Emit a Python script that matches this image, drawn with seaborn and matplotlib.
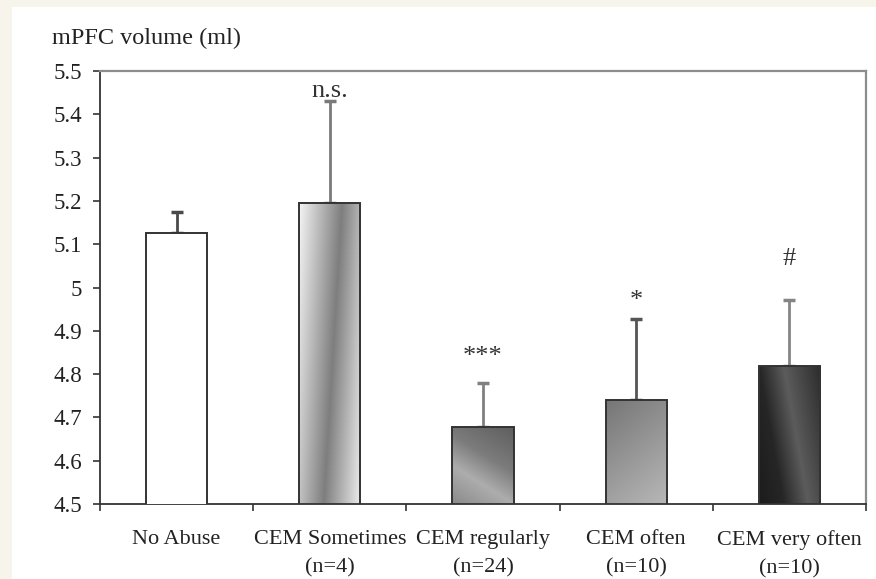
import numpy as np
import pandas as pd
import matplotlib
matplotlib.use("Agg")
import matplotlib.pyplot as plt
from matplotlib.colors import LinearSegmentedColormap
from matplotlib.patches import Rectangle
import seaborn as sns

# Group labels, group sizes and mean mPFC volume with upper error
categories = ["No Abuse", "CEM Sometimes", "CEM regularly", "CEM often", "CEM very often"]
group_n = ["", "(n=4)", "(n=24)", "(n=10)", "(n=10)"]
volume_mean = [5.125, 5.195, 4.677, 4.740, 4.818]
volume_err = [0.050, 0.235, 0.103, 0.188, 0.152]
significance = ["", "n.s.", "***", "*", "#"]
y_ticks = [4.5, 4.6, 4.7, 4.8, 4.9, 5.0, 5.1, 5.2, 5.3, 5.4, 5.5]
y_tick_labels = ["4.5", "4.6", "4.7", "4.8", "4.9", "5", "5.1", "5.2", "5.3", "5.4", "5.5"]

df = pd.DataFrame({"group": categories, "volume": volume_mean})

sns.set_theme(style="white")
plt.rcParams["font.family"] = ["Liberation Serif", "DejaVu Serif"]

fig = plt.figure(figsize=(8.76, 5.79), dpi=100, facecolor="#f7f4ec")
# white page panel behind everything
fig.patches.append(Rectangle((12 / 876, 0), 1, 1 - 7 / 579, transform=fig.transFigure,
                             facecolor="white", edgecolor="none", zorder=-10))
ax = fig.add_axes([100 / 876, 1 - 504 / 579, 766 / 876, 433 / 579])
ax.set_zorder(1)
ax.set_facecolor("white")

sns.barplot(data=df, x="group", y="volume", order=categories, width=0.4,
            color="white", edgecolor="#333333", linewidth=1.4, errorbar=None, ax=ax, zorder=3)

ax.set_ylim(4.5, 5.5)
ax.set_xlim(-0.5, len(categories) - 0.5)

# gradient fills for the CEM bars: (direction weights, colour stops)
fills = [
    None,
    ((1.0, 0.3), [(0.0, "#f4f4f4"), (0.7, "#7e7e7e"), (1.3, "#ececec")]),
    ((-0.5, 1.0), [(-0.5, "#5e5e5e"), (0.1, "#7c7c7c"), (0.5, "#adadad"), (1.0, "#8a8a8a")]),
    ((0.5, 1.0), [(0.0, "#767676"), (1.5, "#b8b8b8")]),
    ((1.0, -0.4), [(-0.4, "#1c1c1c"), (0.0, "#262626"), (0.4, "#5c5c5c"), (1.0, "#2c2c2c")]),
]

X, Y = np.meshgrid(np.linspace(0, 1, 120), np.linspace(0, 1, 240))
for patch, fill, top in zip(ax.patches, fills, volume_mean):
    if fill is None:
        continue
    (wx, wy), stops = fill
    u = wx * X + wy * Y
    lo, hi = stops[0][0], stops[-1][0]
    cmap = LinearSegmentedColormap.from_list(
        "bar", [((p - lo) / (hi - lo), c) for p, c in stops])
    rgb = cmap((u - lo) / (hi - lo))
    x0 = patch.get_x()
    im = ax.imshow(rgb, extent=[x0, x0 + patch.get_width(), 4.5, top],
                   aspect="auto", origin="upper", zorder=2.5, interpolation="bilinear")
    im.set_clip_path(patch)
    patch.set_facecolor("none")

ax.set_xlim(-0.5, len(categories) - 0.5)
ax.set_ylim(4.5, 5.5)

# upper-only error bars
err_colors = ["#4a4a4a", "#7a7a7a", "#808080", "#555555", "#858585"]
for i, (m, e) in enumerate(zip(volume_mean, volume_err)):
    ax.errorbar(i, m, yerr=[[0], [e]], fmt="none", ecolor=err_colors[i],
                elinewidth=2.0, capsize=4, capthick=2.5, zorder=2)

# significance markers (baseline positions)
sig_y = [0, 5.440, 4.826, 4.954, 5.051]
for i, s in enumerate(significance):
    if s:
        ax.text(i, sig_y[i], s, ha="center", va="baseline", fontsize=19, color="#333333")

ax.set_yticks(y_ticks)
ax.set_yticklabels(y_tick_labels)
ax.set_xticks(range(len(categories)))
ax.set_xticklabels([c if not n else f"{c}\n{n}" for c, n in zip(categories, group_n)],
                   linespacing=1.6)
ax.set_xticks(np.arange(-0.5, len(categories) + 0.5, 1.0), minor=True)

ax.tick_params(axis="y", which="major", direction="out", length=5, width=1.2,
               color="#333333", labelsize=16.5, pad=8, left=True, labelcolor="#222222")
ax.tick_params(axis="x", which="major", length=0, labelsize=16, pad=19, labelcolor="#222222")
ax.tick_params(axis="x", which="minor", direction="out", length=5, width=1.2,
               color="#333333", bottom=True)
for lab in ax.get_xticklabels():
    lab.set_verticalalignment("top")

for side in ["left", "bottom"]:
    ax.spines[side].set_color("#333333")
    ax.spines[side].set_linewidth(1.3)
for side in ["top", "right"]:
    ax.spines[side].set_color("#8c8c8c")
    ax.spines[side].set_linewidth(1.6)
ax.set_xlabel("")
ax.set_ylabel("")

fig.text(52 / 876, 1 - 38 / 579, "mPFC volume (ml)", ha="left", va="center",
         fontsize=17.5, color="#222222")

fig.savefig("out.png", dpi=100, facecolor=fig.get_facecolor())
